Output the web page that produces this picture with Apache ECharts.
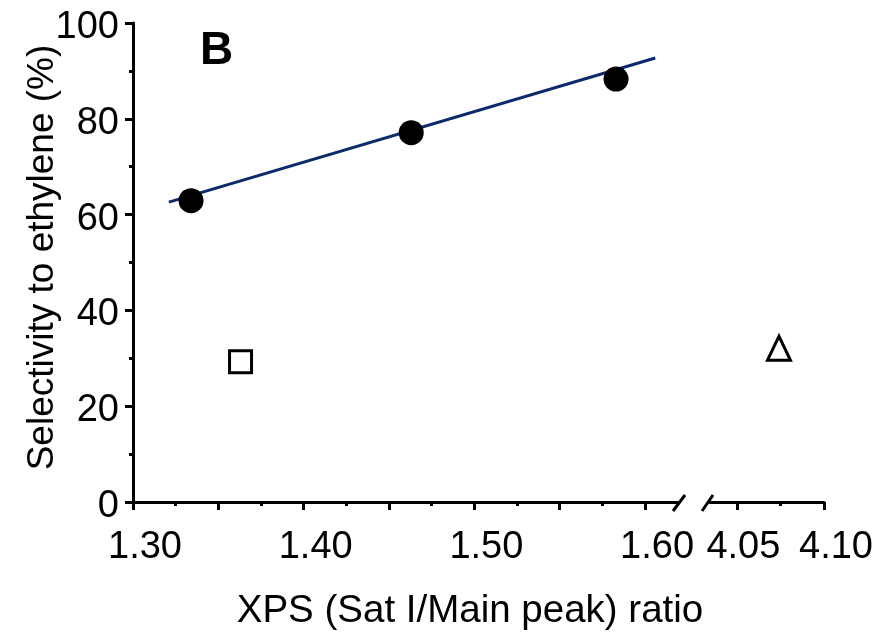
<!DOCTYPE html>
<html>
<head>
<meta charset="utf-8">
<title>Selectivity to ethylene vs XPS ratio</title>
<script src="https://cdn.jsdelivr.net/npm/echarts@6/dist/echarts.min.js"></script>
<style>
  html, body { margin: 0; padding: 0; background: #fff; }
  #chart { width: 882px; height: 639px; }
</style>
</head>
<body>
<div id="chart"></div>
<script>
// Catalysts on the main series (filled circles) and their linear trend
const mainRatio = [1.334, 1.463, 1.583];
const mainSelectivity = [62.9, 77.1, 88.3];
const trendRatio = [1.321, 1.606];
const trendSelectivity = [62.6, 92.7];

// Reference samples (open square and open triangle)
const squareRatio = [1.363];
const squareSelectivity = [29.3];
const triangleRatio = [4.074];
const triangleSelectivity = [32.1];

// Tick positions on the two parts of the broken x axis
const leftMinorTicks = [1.30, 1.325, 1.35, 1.375, 1.40, 1.425, 1.45, 1.475, 1.50, 1.525, 1.55, 1.575, 1.60];
const leftMajorTicks = [1.30, 1.35, 1.40, 1.45, 1.50, 1.55, 1.60];
const leftLabels = [1.30, 1.40, 1.50, 1.60];
const rightMinorTicks = [4.05, 4.075, 4.10];
const rightMajorTicks = [4.05, 4.10];
const rightLabels = [4.05, 4.10];
const yTicks = { min: 0, max: 100, interval: 20 };

const FONT = "'Liberation Sans', Arial, Helvetica, sans-serif";
const INK = '#000';
const LABEL_SIZE = 38;

const pairs = (xs, ys) => xs.map((x, i) => [x, ys[i]]);

const chart = echarts.init(document.getElementById('chart'), null, { renderer: 'canvas' });

const gridTop = 23, gridBottom = 137;

function minorAxis(gridIndex, min, max, ticks) {
  return {
    type: 'value', gridIndex, min, max, position: 'bottom', offset: 0,
    axisLine: { show: true, onZero: false, lineStyle: { color: INK, width: 3 } },
    axisTick: { show: true, length: 4, inside: false, customValues: ticks, lineStyle: { color: INK, width: 3 } },
    axisLabel: { show: false },
    splitLine: { show: false }
  };
}

// rich style per label: a small right shift, wider for labels starting with "1"
const labelRich = {
  s: { fontFamily: FONT, fontSize: LABEL_SIZE, color: INK, padding: [0, 0, 0, 12] },
  w: { fontFamily: FONT, fontSize: LABEL_SIZE, color: INK, padding: [0, 0, 0, 24] }
};

function majorAxis(gridIndex, min, max, ticks, labels, styleOf) {
  return {
    type: 'value', gridIndex, min, max, position: 'bottom', offset: 0,
    axisLine: { show: false, onZero: false },
    axisTick: { show: true, length: 8, inside: false, customValues: ticks, lineStyle: { color: INK, width: 3 } },
    axisLabel: {
      show: true, customValues: labels, margin: 27,
      color: INK, fontFamily: FONT, fontSize: LABEL_SIZE,
      formatter: v => '{' + styleOf(v) + '|' + v.toFixed(2) + '}',
      rich: labelRich
    },
    splitLine: { show: false }
  };
}

const option = {
  animation: false,
  backgroundColor: '#fff',
  title: {
    text: 'B', left: 200, top: 28, padding: 0,
    textStyle: { fontFamily: FONT, fontSize: 46, fontWeight: 'bold', color: INK }
  },
  grid: [
    { left: 133, top: gridTop, width: 545, bottom: gridBottom, containLabel: false },
    { left: 710, top: gridTop, width: 114, bottom: gridBottom, containLabel: false }
  ],
  xAxis: [
    minorAxis(0, 1.30, 1.6193, leftMinorTicks),
    majorAxis(0, 1.30, 1.6193, leftMajorTicks, leftLabels, () => 'w'),
    minorAxis(1, 4.0342, 4.10, rightMinorTicks),
    majorAxis(1, 4.0342, 4.10, rightMajorTicks, rightLabels, v => (v < 4.07 ? 's' : 'w'))
  ],
  yAxis: [
    {
      type: 'value', gridIndex: 0, min: yTicks.min, max: yTicks.max, interval: yTicks.interval,
      name: 'Selectivity to ethylene (%)', nameLocation: 'middle', nameGap: 72, nameRotate: 90,
      nameMoveOverlap: false,
      nameTextStyle: { fontFamily: FONT, fontSize: 37, color: INK, padding: [0, 0, 0, 10] },
      axisLine: { show: true, onZero: false, lineStyle: { color: INK, width: 3 } },
      axisTick: { show: true, length: 8, lineStyle: { color: INK, width: 3 } },
      minorTick: { show: true, splitNumber: 2, length: 4, lineStyle: { color: INK, width: 3 } },
      axisLabel: {
        margin: 14, color: INK, fontFamily: FONT, fontSize: LABEL_SIZE,
        formatter: v => '{t|' + v + '}',
        rich: { t: { fontFamily: FONT, fontSize: LABEL_SIZE, color: INK, padding: [9, 0, 0, 0] } }
      },
      splitLine: { show: false }
    },
    {
      type: 'value', gridIndex: 1, min: yTicks.min, max: yTicks.max, interval: yTicks.interval,
      show: false
    }
  ],
  graphic: [
    // axis break marks
    { type: 'line', shape: { x1: 673, y1: 511, x2: 685, y2: 495 }, style: { stroke: INK, lineWidth: 3 }, z: 100 },
    { type: 'line', shape: { x1: 702, y1: 511, x2: 713, y2: 495 }, style: { stroke: INK, lineWidth: 3 }, z: 100 },
    {
      type: 'text', x: 470, y: 611,
      style: { text: 'XPS (Sat I/Main peak) ratio', fontFamily: FONT, fontSize: 38.5, fill: INK, align: 'center', verticalAlign: 'middle' }
    }
  ],
  series: [
    {
      name: 'trend', type: 'line', xAxisIndex: 0, yAxisIndex: 0,
      data: pairs(trendRatio, trendSelectivity),
      showSymbol: false, symbol: 'none', z: 2,
      lineStyle: { color: '#0b2a6b', width: 3 }
    },
    {
      name: 'main', type: 'scatter', xAxisIndex: 0, yAxisIndex: 0,
      data: pairs(mainRatio, mainSelectivity),
      symbol: 'circle', symbolSize: 25, z: 3,
      itemStyle: { color: INK, opacity: 1 }
    },
    {
      name: 'square', type: 'scatter', xAxisIndex: 0, yAxisIndex: 0,
      data: pairs(squareRatio, squareSelectivity),
      symbol: 'rect', symbolSize: 22, z: 3,
      itemStyle: { color: '#fff', borderColor: INK, borderWidth: 3, opacity: 1 }
    },
    {
      name: 'triangle', type: 'scatter', xAxisIndex: 2, yAxisIndex: 1,
      data: pairs(triangleRatio, triangleSelectivity),
      symbol: 'triangle', symbolSize: [23, 24], z: 3,
      itemStyle: { color: '#fff', borderColor: INK, borderWidth: 3, opacity: 1 }
    }
  ]
};

chart.setOption(option);
</script>
</body>
</html>
